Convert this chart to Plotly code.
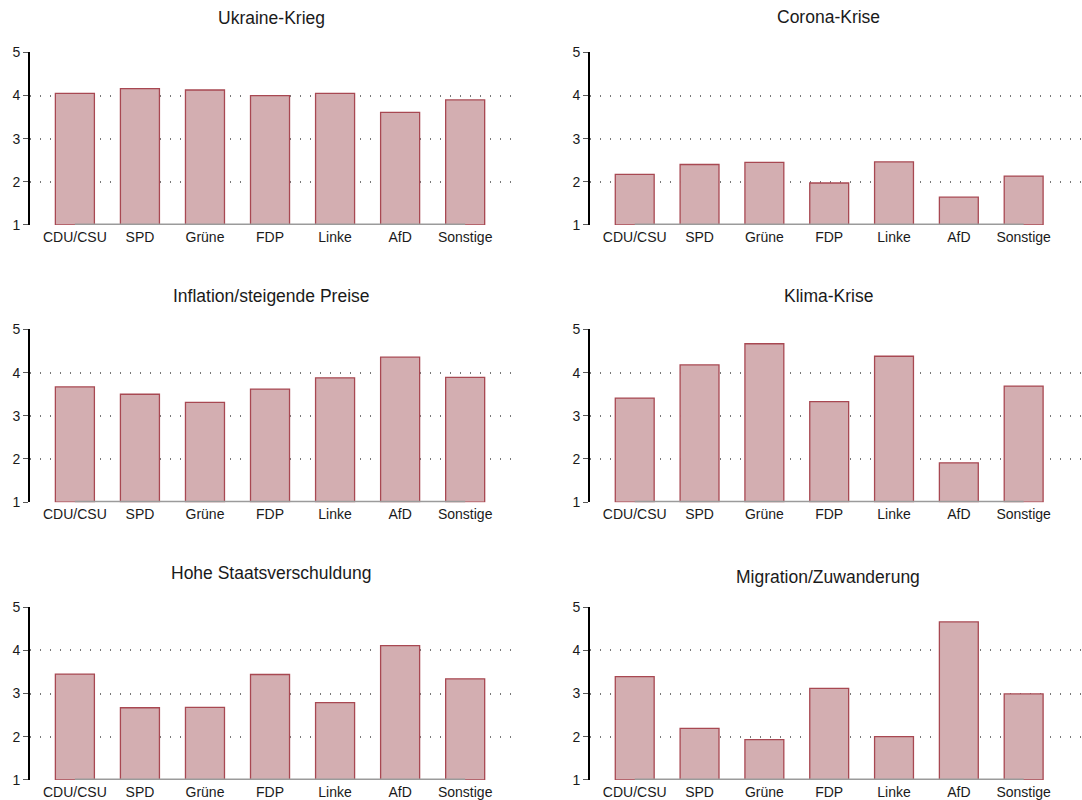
import plotly.graph_objects as go

parties = ["CDU/CSU", "SPD", "Grüne", "FDP", "Linke", "AfD", "Sonstige"]
titles = ["Ukraine-Krieg", "Corona-Krise", "Inflation/steigende Preise",
          "Klima-Krise", "Hohe Staatsverschuldung", "Migration/Zuwanderung"]

ukraine = [4.05, 4.16, 4.13, 4.00, 4.05, 3.61, 3.90]
corona = [2.17, 2.40, 2.45, 1.97, 2.46, 1.64, 2.13]
inflation = [3.67, 3.50, 3.31, 3.62, 3.88, 4.36, 3.89]
klima = [3.41, 4.18, 4.67, 3.33, 4.38, 1.91, 3.69]
schulden = [3.45, 2.67, 2.68, 3.44, 2.79, 4.11, 3.34]
migration = [3.39, 2.19, 1.93, 3.12, 2.00, 4.66, 2.99]
series = [ukraine, corona, inflation, klima, schulden, migration]

y_ticks = [1, 2, 3, 4, 5]
base_value = 1

W, H = 1082, 800
FILL = "rgb(211,174,177)"
EDGE = "rgb(168,72,82)"
FONT = "Liberation Sans, Arial, sans-serif"

# panel geometry in pixels
x_doms_px = [(30, 512), (590, 1082)]
x_ranges = [[-0.69, 6.72], [-0.69, 6.90]]
y_doms_px = [(52.3, 225), (329.3, 502.3), (607, 780)]
title_pos = [(271, 18), (828, 17), (271, 296), (828, 296), (271, 573), (828, 577)]

fig = go.Figure()
layout = {}
annotations = []
for i, (vals, title) in enumerate(zip(series, titles)):
    row, col = divmod(i, 2)
    n = i + 1
    xa = "x" if n == 1 else f"x{n}"
    ya = "y" if n == 1 else f"y{n}"
    fig.add_trace(go.Bar(
        x=parties, y=[v - base_value for v in vals], base=[base_value] * len(vals),
        width=0.6, marker=dict(color=FILL, line=dict(color=EDGE, width=1.3)),
        xaxis=xa, yaxis=ya, showlegend=False, cliponaxis=False))
    fig.add_trace(go.Scatter(
        x=[parties[0], parties[-1]], y=[base_value, base_value], mode="lines",
        line=dict(color="rgb(155,155,155)", width=2.5), xaxis=xa, yaxis=ya,
        showlegend=False, hoverinfo="skip", cliponaxis=False))
    x0, x1 = x_doms_px[col]
    ytop, ybot = y_doms_px[row]
    layout["xaxis" if n == 1 else f"xaxis{n}"] = dict(
        domain=[x0 / W, min(1.0, x1 / W)], range=x_ranges[col], anchor=ya,
        type="category", showgrid=False, showline=False, ticks="", zeroline=False,
        automargin=False, ticklabelstandoff=2,
        tickfont=dict(family=FONT, size=14, color="#1a1a1a"), fixedrange=True)
    layout["yaxis" if n == 1 else f"yaxis{n}"] = dict(
        domain=[1 - ybot / H, 1 - ytop / H], range=[0.995, 5.005], anchor=xa,
        tickvals=y_ticks, showgrid=True, gridcolor="rgb(120,120,120)",
        griddash="1px,9px", gridwidth=1.5, showline=True, linecolor="black",
        linewidth=2, ticks="outside", ticklen=5, tickcolor="rgb(90,90,90)",
        tickwidth=1, zeroline=False, automargin=False,
        tickfont=dict(family=FONT, size=14, color="#1a1a1a"), fixedrange=True)
    tx, ty = title_pos[i]
    annotations.append(dict(
        text=title, x=tx / W, y=1 - ty / H, xref="paper", yref="paper",
        xanchor="center", yanchor="middle", showarrow=False,
        font=dict(family=FONT, size=17.5, color="#1a1a1a")))

fig.update_layout(
    template="none",
    width=W, height=H, margin=dict(l=0, r=0, t=0, b=0, pad=0, autoexpand=False),
    paper_bgcolor="white", plot_bgcolor="white", showlegend=False,
    annotations=annotations, **layout)

post = (
    "document.body.style.margin='0';"
    "document.body.style.overflow='hidden';"
)

fig.write_html(
    "out.html",
    config={"responsive": False, "displayModeBar": False},
    post_script=post)
